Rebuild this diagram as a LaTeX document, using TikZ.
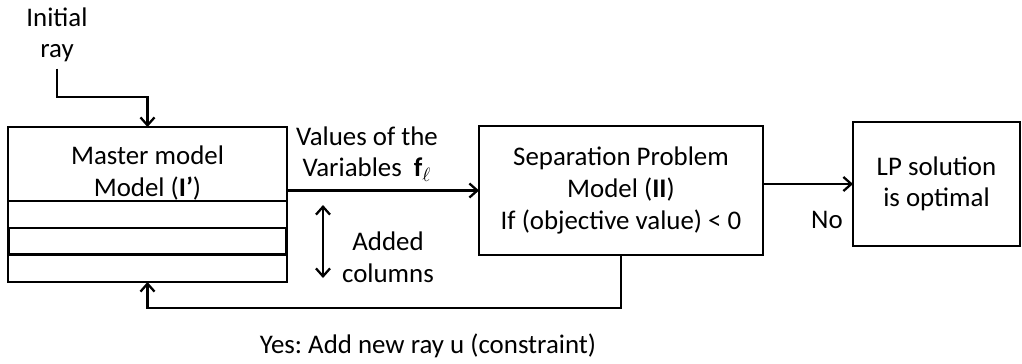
\documentclass[tikz,border=0pt]{standalone}
\usepackage{fontspec}
\setmainfont{Carlito}
\usepackage{amsmath,amssymb}
\usetikzlibrary{positioning,arrows,arrows.meta}
\frenchspacing

\begin{document}
\begin{tikzpicture}[x=0.02cm, y=-0.02cm,
    >={Straight Barb[length=4.5pt,width=8pt]},
    box/.style={draw, line width=0.9pt, align=center, inner sep=0pt, outer sep=0pt,
                font=\fontsize{15.3}{18}\selectfont},
    strip/.style={draw, line width=0.9pt, minimum width=5.58cm,
                  minimum height=0.54cm, inner sep=0pt, outer sep=0pt},
    lbl/.style={align=center, font=\fontsize{15.3}{18}\selectfont},
    arr/.style={->, line width=1.3pt}
]
\useasboundingbox (0,0) rectangle (1022,363);

% --- Master model with added columns ---
\node[box, minimum width=5.58cm, minimum height=1.48cm] (master) at (147.5,164) {};
\node[lbl] (mastertxt) at (147.5,173) {Master model\\Model (\textbf{I’})};
\node[strip, below=0pt of master] (strip1) {};
\node[strip, below=0pt of strip1] (strip2) {};
\node[strip, below=0pt of strip2] (strip3) {};
\draw[line width=1.7pt] (strip2.south west) rectangle (strip2.north east);

% --- Separation problem and stop box ---
\node[box, minimum width=5.68cm, minimum height=2.58cm] (sep) at (621,190.5)
    {Separation Problem\\Model (\textbf{II})\\If (objective value) < 0};
\node[box, minimum width=3.34cm, minimum height=2.48cm] (lp) at (936.5,184)
    {LP solution\\is optimal};

% --- Labels ---
\node[lbl] (init) at (57,35) {Initial\\ray};
\node[lbl] (values) at (367,154) {Values of the\\Variables \ $\mathbf{f}_{\ell}$};
\node[lbl] (added) at (388,257) {Added\\columns};
\node[lbl] (no) at (827,220) {No};
\node[lbl] (yes) at (428,346) {Yes: Add new ray u (constraint)};

% --- Helper points ---
\coordinate (bend1) at (147.5,97);
\coordinate (back) at (147.5,308);
\coordinate (addtop) at (323,205);
\coordinate (addbot) at (323,278);

% --- Arrows ---
\draw[arr] (init.south) |- (bend1) -- (master.north);
\draw[arr] (master.east |- sep.center) -- (sep.west);
\draw[arr] (sep.east |- lp.west) -- (lp.west);
\draw[arr] (sep.south) |- (back) -- (strip3.south);
\draw[arr, <->] (addtop) -- (addbot);

\end{tikzpicture}
\end{document}
